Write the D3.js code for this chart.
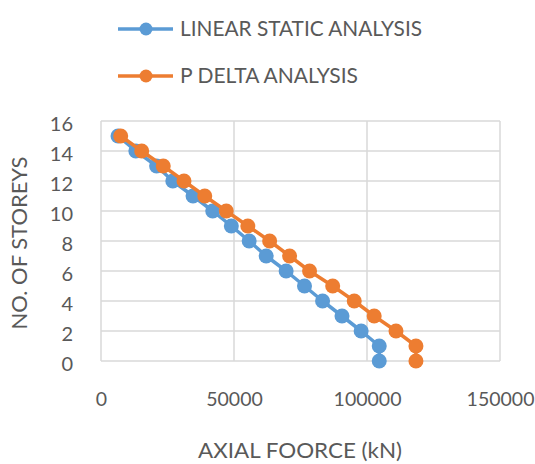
<!DOCTYPE html>
<html>
<head>
<meta charset="utf-8">
<script src="https://cdn.jsdelivr.net/npm/d3@7"></script>
<style>
  html, body { margin: 0; padding: 0; background: #fff; }
  svg { display: block; }
  text { font-family: Lato, "Open Sans", sans-serif; fill: #595959; }
</style>
</head>
<body>
<svg id="chart" width="535" height="464"></svg>
<script>
// Storey levels (ground = 0 up to roof = 15)
const storeys = [15, 14, 13, 12, 11, 10, 9, 8, 7, 6, 5, 4, 3, 2, 1, 0];
// Axial force per storey, kN
const linearStatic = [6400, 13100, 20900, 27000, 34600, 42000, 49000, 55700, 62100, 69600, 76500, 83300, 90600, 97800, 104600, 104600];
const pDelta = [7400, 15300, 23400, 31200, 39000, 47100, 55200, 63400, 70900, 78400, 87100, 95200, 102700, 110900, 118400, 118400];
const seriesNames = ["LINEAR STATIC ANALYSIS", "P DELTA ANALYSIS"];
const seriesColors = ["#5B9BD5", "#ED7D31"];
const xTicks = [0, 50000, 100000, 150000];
const yTicks = [0, 2, 4, 6, 8, 10, 12, 14, 16];
const xTitle = "AXIAL FOORCE (kN)";
const yTitle = "NO. OF STOREYS";

const svg = d3.select("#chart");
const plot = { left: 101, right: 500, top: 121, bottom: 361 };

const x = d3.scaleLinear().domain([0, 150000]).range([plot.left, plot.right]);
const y = d3.scaleLinear().domain([0, 16]).range([plot.bottom, plot.top]);

// Gridlines
svg.append("g")
  .selectAll("line")
  .data(yTicks)
  .join("line")
  .attr("x1", plot.left).attr("x2", plot.right)
  .attr("y1", d => y(d)).attr("y2", d => y(d))
  .attr("stroke", "#D9D9D9").attr("stroke-width", 1.5);
svg.append("g")
  .selectAll("line")
  .data(xTicks)
  .join("line")
  .attr("y1", plot.top).attr("y2", plot.bottom)
  .attr("x1", d => x(d)).attr("x2", d => x(d))
  .attr("stroke", "#D9D9D9").attr("stroke-width", 1.5);

// Axes (labels only)
const xAxis = svg.append("g")
  .attr("transform", `translate(0,${plot.bottom})`)
  .call(d3.axisBottom(x).tickValues(xTicks).tickFormat(d3.format("d")).tickSize(0).tickPadding(31));
xAxis.select(".domain").remove();
xAxis.selectAll("text").attr("font-size", 19.5).attr("fill", "#595959").style("font-family", "Lato, sans-serif");

const yAxis = svg.append("g")
  .attr("transform", `translate(${plot.left},0)`)
  .call(d3.axisLeft(y).tickValues(yTicks).tickSize(0).tickPadding(28));
yAxis.select(".domain").remove();
yAxis.selectAll("text").attr("font-size", 20).attr("fill", "#595959").attr("dy", "0.45em").style("font-family", "Lato, sans-serif");

// Axis titles
svg.append("text")
  .attr("x", 300).attr("y", 458)
  .attr("text-anchor", "middle")
  .attr("font-size", 21)
  .attr("textLength", 204).attr("lengthAdjust", "spacingAndGlyphs")
  .text(xTitle);
svg.append("text")
  .attr("transform", "translate(27,243) rotate(-90)")
  .attr("text-anchor", "middle")
  .attr("font-size", 21)
  .attr("textLength", 173).attr("lengthAdjust", "spacingAndGlyphs")
  .text(yTitle);

// Series
const series = [linearStatic, pDelta];
const line = d3.line().x(d => x(d[0])).y(d => y(d[1]));
series.forEach((vals, i) => {
  const pts = vals.map((v, j) => [v, storeys[j]]);
  const g = svg.append("g");
  g.append("path")
    .attr("d", line(pts))
    .attr("fill", "none")
    .attr("stroke", seriesColors[i])
    .attr("stroke-width", 3.5)
    .attr("stroke-linejoin", "round");
  g.selectAll("circle")
    .data(pts)
    .join("circle")
    .attr("cx", d => x(d[0])).attr("cy", d => y(d[1]))
    .attr("r", 7.5)
    .attr("fill", seriesColors[i]);
});

// Legend
const legendWidths = [242, 178];
seriesNames.forEach((name, i) => {
  const cy = 29 + i * 47;
  const g = svg.append("g");
  g.append("line")
    .attr("x1", 118).attr("x2", 173).attr("y1", cy).attr("y2", cy)
    .attr("stroke", seriesColors[i]).attr("stroke-width", 3.5);
  g.append("circle").attr("cx", 146).attr("cy", cy).attr("r", 6.5).attr("fill", seriesColors[i]);
  g.append("text")
    .attr("x", 180).attr("y", cy + 7)
    .attr("font-size", 21)
    .attr("textLength", legendWidths[i]).attr("lengthAdjust", "spacingAndGlyphs")
    .text(name);
});
</script>
</body>
</html>
